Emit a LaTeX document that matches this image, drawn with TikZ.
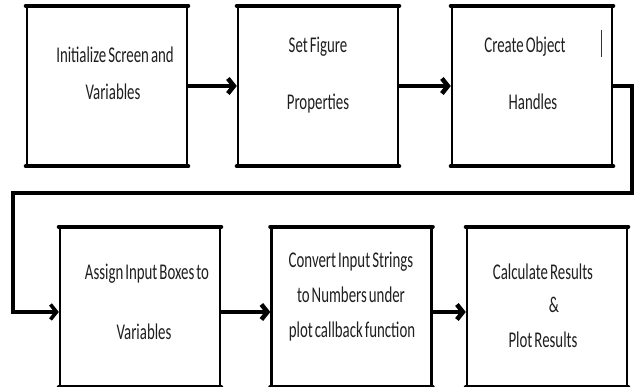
\documentclass[tikz,border=0pt]{standalone}
\usepackage{fontspec}
\setmainfont{Carlito}[FakeStretch=0.66,WordSpace=0.6]
\usetikzlibrary{arrows.meta}
\begin{document}
\begin{tikzpicture}[x=1pt,y=1pt,
  box/.style={draw, line width=2.4pt, minimum width=160pt, minimum height=158pt, inner sep=0pt},
  edge/.style={line width=4.2pt, line cap=round},
  flow/.style={line width=4.5pt, -{Straight Barb[length=6pt,width=15pt]}},
  loopline/.style={line width=3.6pt, line join=miter, -{Straight Barb[length=6pt,width=15pt]}},
  lbl/.style={anchor=base, inner sep=0pt, text=black!88, font=\fontsize{22.5}{26}\selectfont}
]
\useasboundingbox (0,0) rectangle (634,387);
% boxes
\node[box] (b1) at (107,301) {};
\node[box] (b2) at (318,301) {};
\node[box] (b3) at (532,301) {};
\node[box] (b4) at (140,80) {};
\node[box] (b5) at (351.5,80) {};
\node[box] (b6) at (547,80) {};
\foreach \b in {b1,b2,b3,b4,b5,b6}{
  \draw[edge] (\b.north west) -- (\b.north east);
  \draw[edge] (\b.south west) -- (\b.south east);
}
% labels
\node[lbl] (l1a) at (115,324) {Initialize Screen and};
\node[lbl] (l1b) at (113,287) {Variables};
\node[lbl] (l2a) at (318,334) {Set Figure};
\node[lbl] (l2b) at (318,277) {Properties};
\node[lbl] (l3a) at (525,334) {Create Object};
\node[lbl] (l3b) at (533,277) {Handles};
\node[lbl] (l4a) at (147,107) {Assign Input Boxes to};
\node[lbl] (l4b) at (144,47) {Variables};
\node[lbl] (l5a) at (351,119) {Convert Input Strings};
\node[lbl] (l5b) at (351,84) {to Numbers under};
\node[lbl] (l5c) at (352,49) {plot callback function};
\node[lbl] (l6a) at (543,107) {Calculate Results};
\node[lbl] (l6b) at (554,74) {\&};
\node[lbl] (l6c) at (543,39) {Plot Results};
% cursor mark
\draw[line width=0.9pt, black!80] (601,357) -- (601,330);
% connectors
\draw[flow] (b1.east) -- (b2.west);
\draw[flow] (b2.east) -- (b3.west);
\coordinate (c1) at (632,301);
\coordinate (c2) at (632,194);
\coordinate (c3) at (13,194);
\coordinate (c4) at (13,75);
\draw[loopline] (b3.east) -- (c1) -- (c2) -- (c3) -- (c4) -- ([yshift=-5pt]b4.west);
\draw[flow] ([yshift=-5pt]b4.east) -- ([yshift=-5pt]b5.west);
\draw[flow] ([yshift=-5pt]b5.east) -- ([yshift=-5pt]b6.west);
\end{tikzpicture}
\end{document}
